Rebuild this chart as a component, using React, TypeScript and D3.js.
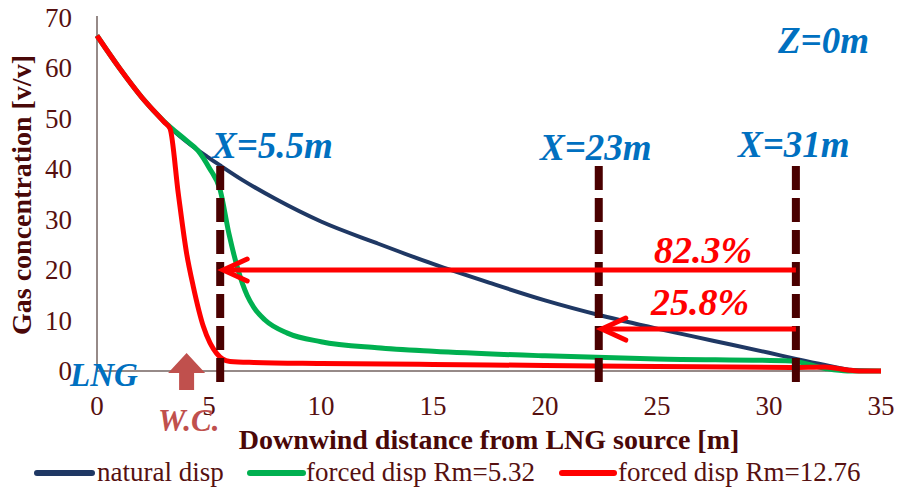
import React from "react";
import * as d3 from "d3";

const naturalX = [0, 1, 2, 3, 4, 5, 5.5, 6.5, 8, 10, 12.5, 15, 17.5, 20, 22.5, 25, 27.5, 30, 31.2, 32.5, 33.75, 35];
const naturalY = [66.4, 60, 54.2, 49.3, 45.4, 42.2, 40.7, 37.8, 34, 29.6, 25.3, 21.2, 17.5, 14, 11, 8.4, 6, 3.6, 2.4, 1.2, 0.2, 0];

const forced532X = [0, 1, 2, 3, 4, 4.5, 5, 5.5, 5.9, 6.3, 6.7, 7.0, 7.5, 8.5, 10, 12.5, 15, 20, 25, 31, 32.5, 33.5, 35];
const forced532Y = [66.4, 60, 54.2, 49.4, 45.6, 43.7, 40.3, 35.8, 27, 20, 15, 12.6, 10.1, 7.5, 5.8, 4.6, 3.9, 3.0, 2.4, 2.0, 0.5, 0, 0];

const forced1276X = [0, 1, 2, 3, 3.26, 3.63, 4.0, 4.3, 4.75, 5.05, 5.34, 5.6, 5.94, 7, 10, 15, 20, 25, 31, 32.5, 33.5, 34, 35];
const forced1276Y = [66.4, 60, 54.2, 49.3, 48, 35.1, 23.3, 16.7, 8.8, 5.5, 3.5, 2.4, 1.9, 1.7, 1.5, 1.3, 1.1, 0.9, 0.7, 0.8, 0.2, 0, 0];

const seriesNames = ["natural disp", "forced disp Rm=5.32", "forced disp Rm=12.76"];
const seriesColors = ["#1f3864", "#00b050", "#ff0000"];

const xTicks = [0, 5, 10, 15, 20, 25, 30, 35];
const yTicks = [0, 10, 20, 30, 40, 50, 60, 70];

const markerX = [5.5, 22.4, 31.2];
const markerLabels = ["X=5.5m", "X=23m", "X=31m"];
const reductionLabels = ["82.3%", "25.8%"];
const reductionLevels = [20, 8.3];
const reductionTips = [5.5, 22.4];

const FONT = "'Liberation Serif', 'Times New Roman', serif";
const TXT = "#561010";
const BLUE = "#0070c0";

export default function App() {
  const xs = d3.scaleLinear().domain([0, 35]).range([97, 881]);
  const ys = d3.scaleLinear().domain([0, 70]).range([371, 17.5]);

  const mk = (xa: number[], ya: number[]) =>
    d3
      .line<number>()
      .x((_, i) => xs(xa[i]))
      .y((_, i) => ys(ya[i]))
      .curve(d3.curveMonotoneX)(xa) as string;

  const paths = [mk(naturalX, naturalY), mk(forced532X, forced532Y), mk(forced1276X, forced1276Y)];
  const widths = [4, 5, 5];

  const wcx = xs(4.0);
  const wc = [
    [wcx, 353],
    [wcx + 18.5, 373],
    [wcx + 7.5, 373],
    [wcx + 7.5, 390],
    [wcx - 7.5, 390],
    [wcx - 7.5, 373],
    [wcx - 18.5, 373],
  ]
    .map((p) => p.join(","))
    .join(" ");

  const legendItems = [
    { x1: 37, x2: 92, tx: 97 },
    { x1: 250, x2: 303, tx: 306 },
    { x1: 562, x2: 614, tx: 618 },
  ];

  return (
    <svg width={899} height={490} style={{ position: "absolute", left: 0, top: 0, background: "#fff" }} fontFamily={FONT}>
      <rect width={899} height={490} fill="#fff" />
      {/* axes */}
      <line x1={xs(0)} x2={xs(0)} y1={16} y2={ys(0)} stroke="#968a88" strokeWidth={2} />
      <line x1={xs(0)} x2={xs(35)} y1={ys(0)} y2={ys(0)} stroke="#968a88" strokeWidth={2} />
      {yTicks.map((t) => (
        <text key={"y" + t} x={72} y={ys(t) + 9} textAnchor="end" fontSize={27} fill={TXT}>
          {t}
        </text>
      ))}
      {xTicks.map((t) => (
        <text key={"x" + t} x={xs(t)} y={415} textAnchor="middle" fontSize={27} fill={TXT}>
          {t}
        </text>
      ))}
      <text x={489} y={449} textAnchor="middle" fontSize={28} fontWeight="bold" fill="#4a0808">
        Downwind distance from LNG source [m]
      </text>
      <text
        transform={`translate(31,195) rotate(-90)`}
        textAnchor="middle"
        fontSize={28}
        fontWeight="bold"
        fill="#4a0808"
      >
        Gas concentration [v/v]
      </text>

      {/* series */}
      {paths.map((d, i) => (
        <path key={i} d={d} fill="none" stroke={seriesColors[i]} strokeWidth={widths[i]} strokeLinejoin="round" />
      ))}

      {/* dashed markers */}
      {markerX.map((m, i) => (
        <line
          key={"m" + i}
          x1={xs(m)}
          x2={xs(m)}
          y1={166}
          y2={383}
          stroke="#4a0000"
          strokeWidth={8}
          strokeDasharray="24 8"
        />
      ))}
      {markerLabels.map((l, i) => (
        <text
          key={"ml" + i}
          x={[212, 540, 738][i]}
          y={[158, 160, 157][i]}
          fontSize={37}
          fontWeight="bold"
          fontStyle="italic"
          fill={BLUE}
        >
          {l}
        </text>
      ))}
      <text x={778} y={53} fontSize={37} fontWeight="bold" fontStyle="italic" fill={BLUE}>
        Z=0m
      </text>

      {/* reduction arrows */}
      {reductionLevels.map((lv, i) => {
        const y = ys(lv);
        const tip = xs(reductionTips[i]) + 3;
        return (
          <g key={"r" + i} stroke="#ff0000" strokeWidth={5} strokeLinecap="round" fill="none">
            <line x1={xs(31.2)} x2={tip} y1={y} y2={y} strokeLinecap="butt" />
            <polyline points={`${tip + 24},${y - 11} ${tip},${y} ${tip + 24},${y + 11}`} strokeLinejoin="miter" />
          </g>
        );
      })}
      {reductionLabels.map((l, i) => (
        <text
          key={"rl" + i}
          x={[654, 651][i]}
          y={[263, 315][i]}
          fontSize={38}
          fontWeight="bold"
          fontStyle="italic"
          fill="#ff0000"
        >
          {l}
        </text>
      ))}

      {/* LNG and W.C. */}
      <text x={70} y={386} fontSize={33} fontWeight="bold" fontStyle="italic" fill={BLUE}>
        LNG
      </text>
      <polygon points={wc} fill="#c0504d" />
      <text x={158} y={431} fontSize={31} fontWeight="bold" fontStyle="italic" fill="#c0504d">
        W.C.
      </text>

      {/* legend */}
      {legendItems.map((it, i) => (
        <g key={"lg" + i}>
          <line x1={it.x1} x2={it.x2} y1={473} y2={473} stroke={seriesColors[i]} strokeWidth={6} strokeLinecap="round" />
          <text x={it.tx} y={481} fontSize={27} fill={TXT}>
            {seriesNames[i]}
          </text>
        </g>
      ))}
    </svg>
  );
}
